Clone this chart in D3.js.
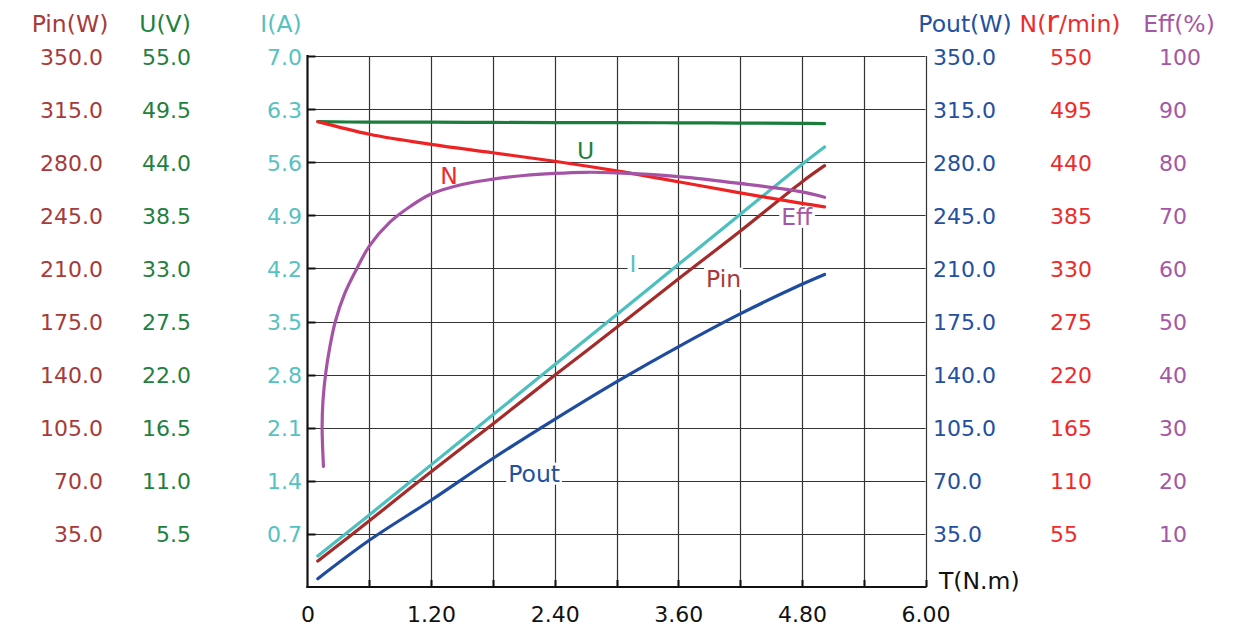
<!DOCTYPE html>
<html>
<head>
<meta charset="utf-8">
<script src="https://cdn.jsdelivr.net/npm/d3@7"></script>
<style>
  html, body { margin: 0; padding: 0; background: #fff; }
  svg { display: block; font-family: "DejaVu Sans", Verdana, sans-serif; }
</style>
</head>
<body>
<svg id="chart" width="1234" height="627"></svg>
<script>
// ---------- data ----------
const torque   = [0.1, 0.6, 1.2, 1.8, 2.4, 3.0, 3.6, 4.2, 4.8, 5.02];
const pinW     = [17.1, 43.6, 76.0, 107.5, 139.5, 171.0, 203.0, 234.5, 267.0, 277.7];
const uV       = [48.2, 48.15, 48.15, 48.12, 48.1, 48.1, 48.08, 48.05, 48.02, 48.0];
const iA       = [0.41, 0.95, 1.61, 2.27, 2.93, 3.59, 4.25, 4.91, 5.57, 5.80];
const poutW    = [5.5, 30.8, 57.2, 84.7, 110.5, 135.2, 158.3, 180.0, 199.5, 206.0];
const nRpm     = [482, 469, 458.5, 449.8, 441, 431, 419.7, 408.3, 397.3, 393.8];
const effT     = [0.155, 0.142, 0.15, 0.175, 0.215, 0.27, 0.36, 0.48, 0.6, 0.8, 1.0, 1.2, 1.5, 1.8, 2.1, 2.4, 2.7, 3.0, 3.6, 4.2, 4.8, 5.02];
const effPct   = [22.7, 30, 35, 40, 45, 50, 55.2, 60, 64.2, 68.7, 71.7, 74.0, 75.8, 76.8, 77.5, 77.9, 78.1, 78.0, 77.3, 76.0, 74.4, 73.4];

const xTicks    = [0, 1.2, 2.4, 3.6, 4.8, 6.0];
const pinTicks  = [35, 70, 105, 140, 175, 210, 245, 280, 315, 350];
const uTicks    = [5.5, 11, 16.5, 22, 27.5, 33, 38.5, 44, 49.5, 55];
const iTicks    = [0.7, 1.4, 2.1, 2.8, 3.5, 4.2, 4.9, 5.6, 6.3, 7.0];
const poutTicks = [35, 70, 105, 140, 175, 210, 245, 280, 315, 350];
const nTicks    = [55, 110, 165, 220, 275, 330, 385, 440, 495, 550];
const effTicks  = [10, 20, 30, 40, 50, 60, 70, 80, 90, 100];
const xGrid     = [0.6, 1.2, 1.8, 2.4, 3.0, 3.6, 4.2, 4.8, 5.4, 6.0];

// curve label anchors: [name, T, value]
const curveLabels = [
  ["U", 2.70, 45.2],
  ["N", 1.375, 426.7],
  ["Eff", 4.75, 69.8],
  ["I", 3.16, 4.26],
  ["Pin", 4.04, 203.6],
  ["Pout", 2.2, 75]
];

// ---------- layout ----------
const L = 307.5, R = 925.5, T = 56, B = 587;
const FONT = '"DejaVu Sans", Verdana, sans-serif';
const colors = {
  Pin: "#a52a2a", U: "#1a7d3c", I: "#4cbfbf", Pout: "#1f4c9f", N: "#ee2222", Eff: "#a553a5"
};
const textColors = {
  Pin: "#a83a3a", U: "#1f8040", I: "#55c2c2", Pout: "#2350a0", N: "#ee2a2a", Eff: "#a557a5"
};

const svg = d3.select("#chart");
const x = d3.scaleLinear([0, 6], [L, R]);
const yPin = d3.scaleLinear([0, 350], [B, T]);
const yU = d3.scaleLinear([0, 55], [B, T]);
const yI = d3.scaleLinear([0, 7], [B, T]);
const yPout = d3.scaleLinear([0, 350], [B, T]);
const yN = d3.scaleLinear([0, 550], [B, T]);
const yEff = d3.scaleLinear([0, 100], [B, T]);
const scales = { Pin: yPin, U: yU, I: yI, Pout: yPout, N: yN, Eff: yEff };

// ---------- grid ----------
const grid = svg.append("g");
grid.selectAll("line.v").data(xGrid).join("line")
  .attr("x1", d => Math.round(x(d)) + 0.5).attr("x2", d => Math.round(x(d)) + 0.5)
  .attr("y1", T).attr("y2", B)
  .attr("stroke", "#333").attr("stroke-width", 1.2);
grid.selectAll("line.h").data(iTicks).join("line")
  .attr("x1", L).attr("x2", R)
  .attr("y1", d => Math.round(yI(d)) + 0.5).attr("y2", d => Math.round(yI(d)) + 0.5)
  .attr("stroke", "#333").attr("stroke-width", 1.2);
// frame
svg.append("line").attr("x1", L).attr("x2", L).attr("y1", T - 1).attr("y2", B + 1).attr("stroke", "#111").attr("stroke-width", 2.2);
svg.append("line").attr("x1", L - 1).attr("x2", R + 1).attr("y1", B).attr("y2", B).attr("stroke", "#111").attr("stroke-width", 2.2);
// inner ticks
svg.selectAll("line.lt").data(iTicks).join("line")
  .attr("x1", L).attr("x2", L + 8)
  .attr("y1", d => Math.round(yI(d)) + 0.5).attr("y2", d => Math.round(yI(d)) + 0.5)
  .attr("stroke", "#111").attr("stroke-width", 2);
svg.selectAll("line.bt").data(xGrid).join("line")
  .attr("x1", d => Math.round(x(d)) + 0.5).attr("x2", d => Math.round(x(d)) + 0.5)
  .attr("y1", B).attr("y2", B - 7)
  .attr("stroke", "#111").attr("stroke-width", 2);

// ---------- value axes ----------
function valueAxis(axisFn, scale, ticks, fmt, xpos, color) {
  const g = svg.append("g").attr("transform", `translate(${xpos},1)`)
    .call(axisFn(scale).tickValues(ticks).tickFormat(fmt).tickSize(0).tickPadding(0));
  g.select(".domain").remove();
  g.selectAll("text").attr("fill", color).style("font-size", "22px").style("font-family", FONT);
  return g;
}
valueAxis(d3.axisLeft, yPin, pinTicks, d3.format(".1f"), 103, textColors.Pin);
valueAxis(d3.axisLeft, yU, uTicks, d3.format(".1f"), 191, textColors.U);
valueAxis(d3.axisLeft, yI, iTicks, d3.format(".1f"), 302, textColors.I);
valueAxis(d3.axisRight, yPout, poutTicks, d3.format(".1f"), 933, textColors.Pout);
valueAxis(d3.axisRight, yN, nTicks, d3.format("d"), 1050, textColors.N);
valueAxis(d3.axisRight, yEff, effTicks, d3.format("d"), 1159, textColors.Eff);

// x axis
const xg = svg.append("g").attr("transform", `translate(0,${B})`)
  .call(d3.axisBottom(x).tickValues(xTicks).tickFormat(d => d === 0 ? "0" : d3.format(".2f")(d)).tickSize(0).tickPadding(19));
xg.select(".domain").remove();
xg.selectAll("text").attr("fill", "#111").style("font-size", "22px").style("font-family", FONT);

// headers
const headers = [
  ["Pin(W)", 70, textColors.Pin], ["U(V)", 165, textColors.U], ["I(A)", 281, textColors.I],
  ["Pout(W)", 965, textColors.Pout], ["Eff(%)", 1179, textColors.Eff]
];
svg.selectAll("text.hdr").data(headers).join("text")
  .attr("x", d => d[1]).attr("y", 32).attr("text-anchor", "middle")
  .attr("fill", d => d[2]).style("font-size", "23.5px").text(d => d[0]);
const nh = svg.append("text").attr("x", 1070).attr("y", 32).attr("text-anchor", "middle")
  .attr("fill", textColors.N).style("font-size", "23.5px");
nh.append("tspan").text("N(");
nh.append("tspan").style("font-size", "31px").text("r");
nh.append("tspan").text("/min)");

svg.append("text").attr("x", 939).attr("y", 589).attr("fill", "#111").style("font-size", "23.5px").text("T(N.m)");

// ---------- curve labels: backgrounds below curves, text above ----------
const bgG = svg.append("g");
const curveG = svg.append("g");
const txtG = svg.append("g");
const lbls = txtG.selectAll("text").data(curveLabels).join("text")
  .attr("x", d => x(d[1])).attr("y", d => scales[d[0]](d[2]))
  .attr("text-anchor", "middle").attr("dy", "0.36em")
  .attr("fill", d => textColors[d[0]]).style("font-size", "23.5px").text(d => d[0]);
lbls.each(function() {
  const bb = this.getBBox();
  bgG.append("rect").attr("x", bb.x - 2).attr("y", bb.y + 3).attr("width", bb.width + 4)
    .attr("height", bb.height - 6).attr("fill", "#fff");
});

// ---------- curves ----------
const series = [
  ["Pin", pinW], ["U", uV], ["I", iA], ["Pout", poutW], ["N", nRpm]
];
series.forEach(([k, vals]) => {
  const pts = torque.map((t, i) => [t, vals[i]]);
  curveG.append("path").datum(pts)
    .attr("fill", "none").attr("stroke", colors[k]).attr("stroke-width", 3.2)
    .attr("stroke-linecap", "round")
    .attr("d", d3.line().x(d => x(d[0])).y(d => scales[k](d[1])).curve(d3.curveCatmullRom.alpha(0.5)));
});
const effPts = effT.map((t, i) => [t, effPct[i]]);
curveG.append("path").datum(effPts)
  .attr("fill", "none").attr("stroke", colors.Eff).attr("stroke-width", 3.2)
  .attr("stroke-linecap", "round")
  .attr("d", d3.line().x(d => x(d[0])).y(d => yEff(d[1])).curve(d3.curveCatmullRom.alpha(0.5)));
</script>
</body>
</html>
